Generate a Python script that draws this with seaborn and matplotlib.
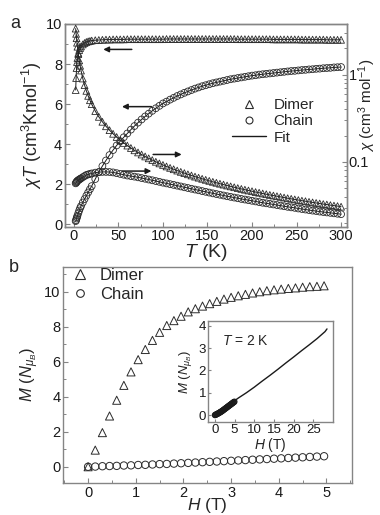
import matplotlib
matplotlib.use("Agg")
import matplotlib.pyplot as plt
import matplotlib.ticker as mticker
from matplotlib.lines import Line2D
import seaborn as sns

sns.set_theme(style="ticks")
plt.rcParams['font.family'] = ['Liberation Sans', 'DejaVu Sans']
plt.rcParams['mathtext.fontset'] = 'custom'
plt.rcParams['mathtext.rm'] = 'Liberation Sans'
plt.rcParams['mathtext.it'] = 'Liberation Sans:italic'

# ---- panel a: chi*T and chi vs T ----
T = [2, 2.5, 3, 3.5, 4, 5, 6, 7, 8, 10, 12, 14, 16, 18, 20,
     24, 28, 32, 36, 40, 44, 48, 52, 56, 60, 64, 68, 72, 76, 80, 84, 88, 92, 96, 100,
     104, 108, 112, 116, 120, 124, 128, 132, 136, 140, 144, 148, 152, 156, 160,
     164, 168, 172, 176, 180, 184, 188, 192, 196, 200, 204, 208, 212, 216, 220,
     224, 228, 232, 236, 240, 244, 248, 252, 256, 260, 264, 268, 272, 276, 280,
     284, 288, 292, 296, 300]

dimer_chiT = [6.7, 7.3, 7.8, 8.1, 8.3, 8.55, 8.7, 8.8, 8.88, 8.98, 9.05, 9.1, 9.13, 9.15, 9.17,
              9.19, 9.2, 9.21, 9.22, 9.22, 9.23, 9.23, 9.23, 9.23, 9.24, 9.24, 9.24, 9.24, 9.24,
              9.24, 9.24, 9.24, 9.24, 9.24, 9.24,
              9.25, 9.25, 9.25, 9.25, 9.25, 9.25, 9.25, 9.25, 9.25, 9.25, 9.25, 9.25, 9.25, 9.25,
              9.25, 9.25, 9.25, 9.25, 9.25, 9.25, 9.24, 9.24, 9.24, 9.24, 9.24, 9.24, 9.24, 9.24,
              9.24, 9.24, 9.23, 9.23, 9.23, 9.23, 9.23, 9.23, 9.23, 9.23, 9.22, 9.22, 9.22, 9.22,
              9.22, 9.22, 9.22, 9.21, 9.21, 9.21, 9.21, 9.21]

chain_chiT = [0.15, 0.2, 0.28, 0.35, 0.42, 0.55, 0.68, 0.8, 0.9, 1.08, 1.25, 1.42, 1.58, 1.74, 1.9,
              2.25, 2.6, 2.9, 3.18, 3.45, 3.7, 3.93, 4.14, 4.34, 4.53, 4.72, 4.9, 5.07, 5.23,
              5.38, 5.52, 5.66, 5.79, 5.91, 6.03,
              6.12, 6.22, 6.31, 6.4, 6.48, 6.56, 6.63, 6.7, 6.77, 6.83, 6.89, 6.94, 6.99, 7.04,
              7.08, 7.12, 7.16, 7.2, 7.24, 7.27, 7.3, 7.33, 7.36, 7.39, 7.42, 7.44, 7.47, 7.49,
              7.51, 7.53, 7.55, 7.57, 7.59, 7.61, 7.63, 7.65, 7.66, 7.68, 7.7, 7.71, 7.73, 7.74,
              7.76, 7.77, 7.79, 7.8, 7.81, 7.83, 7.84, 7.85]

dimer_chi = [3.35, 2.92, 2.6, 2.31, 2.08, 1.71, 1.45, 1.26, 1.11, 0.90, 0.756, 0.65, 0.57, 0.508, 0.458,
             0.382, 0.328, 0.288, 0.256, 0.231, 0.210, 0.193, 0.178, 0.165, 0.154, 0.1445, 0.136,
             0.1285, 0.1217, 0.1156, 0.1101, 0.1051, 0.1005, 0.0963, 0.0925,
             0.0889, 0.0856, 0.0826, 0.0797, 0.0771, 0.0746, 0.0723, 0.0701, 0.068, 0.0661,
             0.0642, 0.0625, 0.0608, 0.0593, 0.0578, 0.0564, 0.0551, 0.0538, 0.0526, 0.0514,
             0.0503, 0.0492, 0.0482, 0.0472, 0.0463, 0.0453, 0.0445, 0.0436, 0.0428, 0.042,
             0.0413, 0.0406, 0.0399, 0.0392, 0.0385, 0.0379, 0.0373, 0.0367, 0.0361, 0.0356,
             0.035, 0.0345, 0.034, 0.0335, 0.033, 0.0326, 0.0321, 0.0317, 0.0313, 0.0308]

chain_chi = [0.057, 0.058, 0.059, 0.060, 0.061, 0.062, 0.063, 0.064, 0.065, 0.067, 0.069, 0.071,
             0.072, 0.073, 0.074,
             0.0755, 0.0765, 0.077, 0.077, 0.0768, 0.076, 0.0745, 0.073, 0.0715, 0.070, 0.069,
             0.068, 0.0668, 0.0655, 0.0643, 0.063, 0.0618, 0.0605, 0.0593, 0.058,
             0.0569, 0.0558, 0.0547, 0.0536, 0.0525, 0.0514, 0.0504, 0.0494, 0.0484, 0.0475,
             0.0465, 0.0456, 0.0447, 0.0438, 0.043, 0.0422, 0.0414, 0.0406, 0.0399, 0.0392,
             0.0385, 0.0378, 0.0372, 0.0366, 0.036, 0.0354, 0.0348, 0.0342, 0.0337, 0.0332,
             0.0327, 0.0322, 0.0317, 0.0312, 0.0307, 0.0303, 0.0299, 0.0294, 0.029, 0.0286,
             0.0282, 0.0278, 0.0275, 0.0271, 0.0268, 0.0265, 0.0262, 0.0259, 0.0256, 0.0253]

# arrows: (x_tail, x_head, y) in T / chi*T units
arrows = [(65, 33, 8.73), (87, 54, 5.87), (89, 121, 3.48), (54, 87, 2.65)]

# ---- panel b: M vs H ----
H = [0, 0.15, 0.3, 0.45, 0.6, 0.75, 0.9, 1.05, 1.2, 1.35, 1.5, 1.65, 1.8, 1.95, 2.1, 2.25,
     2.4, 2.55, 2.7, 2.85, 3.0, 3.15, 3.3, 3.45, 3.6, 3.75, 3.9, 4.05, 4.2, 4.35, 4.5, 4.65,
     4.8, 4.95]
dimer_M = [0, 0.95, 1.95, 2.9, 3.8, 4.65, 5.42, 6.12, 6.7, 7.22, 7.68, 8.07, 8.35, 8.6, 8.85,
           9.03, 9.18, 9.32, 9.45, 9.58, 9.68, 9.77, 9.85, 9.93, 10.0, 10.06, 10.11, 10.15,
           10.19, 10.22, 10.26, 10.29, 10.31, 10.34]
chain_M = [0, 0.01, 0.03, 0.04, 0.05, 0.07, 0.08, 0.1, 0.11, 0.13, 0.15, 0.16, 0.18, 0.2,
           0.22, 0.24, 0.26, 0.28, 0.3, 0.32, 0.34, 0.36, 0.38, 0.4, 0.42, 0.44, 0.46, 0.48,
           0.5, 0.52, 0.54, 0.56, 0.58, 0.6]

# inset: high-field magnetization of the chain at 2 K
H_hf = [0, 2, 4, 6, 8, 10, 12, 14, 16, 18, 20, 22, 24, 26, 28, 28.5]
M_hf = [0, 0.25, 0.52, 0.77, 1.0, 1.25, 1.52, 1.78, 2.05, 2.33, 2.6, 2.88, 3.15, 3.43, 3.74, 3.86]

EDGE = '#2b2b2b'
SPINE = '#858585'


def style_axes(ax, size=10.5):
    for sp in ax.spines.values():
        sp.set_color(SPINE)
        sp.set_linewidth(1.0)
    ax.tick_params(which='both', direction='in', color=SPINE, labelsize=size,
                   labelcolor='#1a1a1a', pad=2)
    ax.tick_params(which='major', length=3.5, width=0.8)
    ax.tick_params(which='minor', length=2, width=0.7)


fig = plt.figure(figsize=(3.8, 5.15), dpi=100)
ax1 = fig.add_axes([0.171, 0.5598, 0.743, 0.3936])
ax1r = ax1.twinx()
ax2 = fig.add_axes([0.1666, 0.0621, 0.759, 0.42])
ax3 = fig.add_axes([0.548, 0.181, 0.327, 0.1955])

# panel a, left axis
sns.lineplot(x=T, y=dimer_chiT, ax=ax1, color='k', lw=0.7, zorder=2)
sns.lineplot(x=T, y=chain_chiT, ax=ax1, color='k', lw=0.7, zorder=2)
sns.scatterplot(x=T, y=dimer_chiT, ax=ax1, marker='^', s=24, facecolor='none',
                edgecolor=EDGE, linewidth=0.6, zorder=3)
sns.scatterplot(x=T, y=chain_chiT, ax=ax1, marker='o', s=24, facecolor='none',
                edgecolor=EDGE, linewidth=0.6, zorder=3)
ax1.set_xlim(-10, 307)
ax1.set_ylim(-0.13, 10)
ax1.xaxis.set_major_locator(mticker.MultipleLocator(50))
ax1.xaxis.set_minor_locator(mticker.MultipleLocator(25))
ax1.yaxis.set_major_locator(mticker.MultipleLocator(2))
ax1.yaxis.set_minor_locator(mticker.MultipleLocator(1))
ax1.set_xlabel('$T$ (K)', fontsize=14, labelpad=-1)
ax1.set_ylabel(r'$\chi T$ (cm$^3$Kmol$^{-1}$)', fontsize=13, labelpad=1)
style_axes(ax1)
ax1.tick_params(top=False, right=False)

# panel a, right (log) axis
ax1r.set_yscale('log')
sns.lineplot(x=T, y=dimer_chi, ax=ax1r, color='k', lw=0.7, zorder=2)
sns.lineplot(x=T, y=chain_chi, ax=ax1r, color='k', lw=0.7, zorder=2)
sns.scatterplot(x=T, y=dimer_chi, ax=ax1r, marker='^', s=24, facecolor='none',
                edgecolor=EDGE, linewidth=0.6, zorder=3)
sns.scatterplot(x=T, y=chain_chi, ax=ax1r, marker='o', s=24, facecolor='none',
                edgecolor=EDGE, linewidth=0.6, zorder=3)
ax1r.set_ylim(0.0182, 3.78)
ax1r.yaxis.set_major_formatter(mticker.FuncFormatter(lambda v, _: f'{v:g}'))
ax1r.yaxis.set_minor_formatter(mticker.NullFormatter())
ax1r.set_ylabel(r'$\chi$ (cm$^3$ mol$^{-1}$)', fontsize=11)
ax1r.yaxis.set_label_coords(1.033, 0.6)
style_axes(ax1r)
ax1r.tick_params(pad=1)

for x0, x1, y in arrows:
    ax1.annotate('', xy=(x1, y), xytext=(x0, y),
                 arrowprops=dict(arrowstyle='-|>', color='k', lw=1.1, mutation_scale=8,
                                 shrinkA=0, shrinkB=0))

handles = [Line2D([], [], marker='^', ls='none', mfc='none', mec=EDGE, ms=5.5, mew=0.8),
           Line2D([], [], marker='o', ls='none', mfc='none', mec=EDGE, ms=5.0, mew=0.8),
           Line2D([], [], color='k', lw=1.0)]
ax1r.legend(handles, ['Dimer', 'Chain', 'Fit'], loc='upper left',
            bbox_to_anchor=(0.592, 0.635), frameon=False, fontsize=11,
            handlelength=2.2, handletextpad=0.5, labelspacing=0.15,
            borderpad=0, borderaxespad=0)

# panel b
sns.scatterplot(x=H, y=dimer_M, ax=ax2, marker='^', s=34, facecolor='none',
                edgecolor=EDGE, linewidth=0.7, zorder=3)
sns.scatterplot(x=H, y=chain_M, ax=ax2, marker='o', s=28, facecolor='none',
                edgecolor=EDGE, linewidth=0.7, zorder=3)
ax2.set_xlim(-0.52, 5.53)
ax2.set_ylim(-0.93, 11.43)
ax2.xaxis.set_major_locator(mticker.MultipleLocator(1))
ax2.xaxis.set_minor_locator(mticker.MultipleLocator(0.5))
ax2.yaxis.set_major_locator(mticker.MultipleLocator(2))
ax2.yaxis.set_minor_locator(mticker.MultipleLocator(1))
ax2.set_xlabel('$H$ (T)', fontsize=12.5, labelpad=-3)
ax2.set_ylabel(r'$M$ ($N_{\mu_B}$)', fontsize=12, labelpad=2)
style_axes(ax2)
ax2.tick_params(top=False, right=False)

handles_b = [Line2D([], [], marker='^', ls='none', mfc='none', mec=EDGE, ms=6.5, mew=0.8),
             Line2D([], [], marker='o', ls='none', mfc='none', mec=EDGE, ms=5.5, mew=0.8)]
ax2.legend(handles_b, ['Dimer', 'Chain'], loc='upper left', bbox_to_anchor=(0.035, 0.995),
           frameon=False, fontsize=12, handlelength=0.8, handletextpad=0.8,
           labelspacing=0.25, borderpad=0, borderaxespad=0)

# inset
sns.lineplot(x=H_hf, y=M_hf, ax=ax3, color='k', lw=1.0, zorder=2)
sns.scatterplot(x=H, y=chain_M, ax=ax3, marker='o', s=14, facecolor='none',
                edgecolor='k', linewidth=0.8, zorder=3)
ax3.set_xlim(-1.7, 29.9)
ax3.set_ylim(-0.3, 4.21)
ax3.xaxis.set_major_locator(mticker.MultipleLocator(5))
ax3.yaxis.set_major_locator(mticker.MultipleLocator(1))
ax3.set_xlabel('$H$ (T)', fontsize=10, labelpad=0)
ax3.set_ylabel(r'$M$ ($N_{\mu_B}$)', fontsize=9.5, labelpad=3)
ax3.text(1.7, 3.3, '$T$ = 2 K', fontsize=10, ha='left', va='center')
style_axes(ax3, size=9.5)
ax3.tick_params(which='major', length=2.5, pad=1.5)

fig.text(0.04, 0.955, 'a', fontsize=13, ha='center', va='center')
fig.text(0.035, 0.48, 'b', fontsize=13, ha='center', va='center')

fig.savefig('out.png', dpi=100)
